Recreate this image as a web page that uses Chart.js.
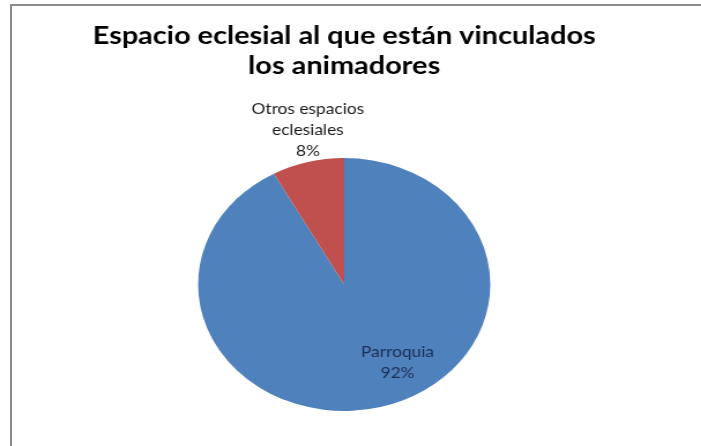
<!DOCTYPE html>
<html>
<head>
<meta charset="utf-8">
<script src="https://cdn.jsdelivr.net/npm/chart.js@4.4.1/dist/chart.umd.min.js"></script>
<style>
  html, body { margin: 0; padding: 0; background: #fff; }
  body { width: 701px; height: 446px; position: relative; overflow: hidden; }
  #frame {
    position: absolute; left: 10px; top: 4px; right: 0; bottom: -4px;
    border-top: 2px solid #8c8c8c; border-left: 2px solid #8c8c8c;
  }
  /* la imagen original está estirada en horizontal */
  #wrap { position: absolute; left: 0; top: 0; transform: scaleX(1.155); transform-origin: 0 0; }
</style>
</head>
<body>
<div id="frame"></div>
<div id="wrap"><canvas id="pieChart" width="607" height="446"></canvas></div>
<script>
// Datos
const categorias = ['Parroquia', 'Otros espacios eclesiales'];
const porcentajes = [92, 8];
const etiquetas = [['Parroquia', '92%'], ['Otros espacios', 'eclesiales', '8%']];
const colores = ['#4f81bd', '#c0504d'];

// Plugin sencillo para las etiquetas de datos
const etiquetasPlugin = {
  id: 'etiquetas',
  afterDatasetsDraw(chart, args, opts) {
    const ctx = chart.ctx;
    const meta = chart.getDatasetMeta(0);
    ctx.save();
    ctx.font = opts.font;
    ctx.textAlign = 'center';
    ctx.textBaseline = 'middle';
    meta.data.forEach((arc, i) => {
      const p = arc.getProps(['x', 'y', 'startAngle', 'endAngle', 'outerRadius'], true);
      const pos = opts.pos[i];
      const lines = etiquetas[i];
      const lh = opts.lineHeight;
      let cx, cy;
      if (pos.inside) {
        const a = p.startAngle + (p.endAngle - p.startAngle) * pos.frac;
        cx = p.x + Math.cos(a) * p.outerRadius * pos.dist;
        cy = p.y + Math.sin(a) * p.outerRadius * pos.dist;
      } else {
        // fuera del sector: el bloque de texto termina justo sobre el borde
        const a = (p.startAngle + p.endAngle) / 2;
        cx = p.x + Math.cos(a) * (p.outerRadius + pos.offset);
        cy = p.y + Math.sin(a) * (p.outerRadius + pos.offset) - (lines.length * lh) / 2;
      }
      ctx.fillStyle = pos.color;
      const y0 = cy - ((lines.length - 1) * lh) / 2;
      lines.forEach((t, j) => ctx.fillText(t, cx, y0 + j * lh));
    });
    ctx.restore();
  }
};

const ctxPie = document.getElementById('pieChart').getContext('2d');
const pieChart = new Chart(ctxPie, {
  type: 'pie',
  data: {
    labels: categorias,
    datasets: [{
      data: porcentajes,
      backgroundColor: colores,
      borderWidth: 0
    }]
  },
  options: {
    responsive: false,
    animation: false,
    layout: { padding: { top: 0, bottom: 35, left: 0, right: 11 } },
    plugins: {
      legend: { display: false },
      tooltip: { enabled: false },
      title: {
        display: true,
        text: ['Espacio eclesial al que están vinculados', 'los animadores'],
        color: '#000',
        font: { family: 'Lato', size: 25, weight: 'bold', lineHeight: 1.2 },
        padding: { top: 21, bottom: 77 }
      },
      etiquetas: {
        font: '15px Lato',
        lineHeight: 21,
        pos: [
          { inside: true, frac: 0.451, dist: 0.716, color: '#1c2f55' },
          { inside: false, offset: 0, color: '#1a1a1a' }
        ]
      }
    }
  },
  plugins: [etiquetasPlugin]
});
</script>
</body>
</html>
